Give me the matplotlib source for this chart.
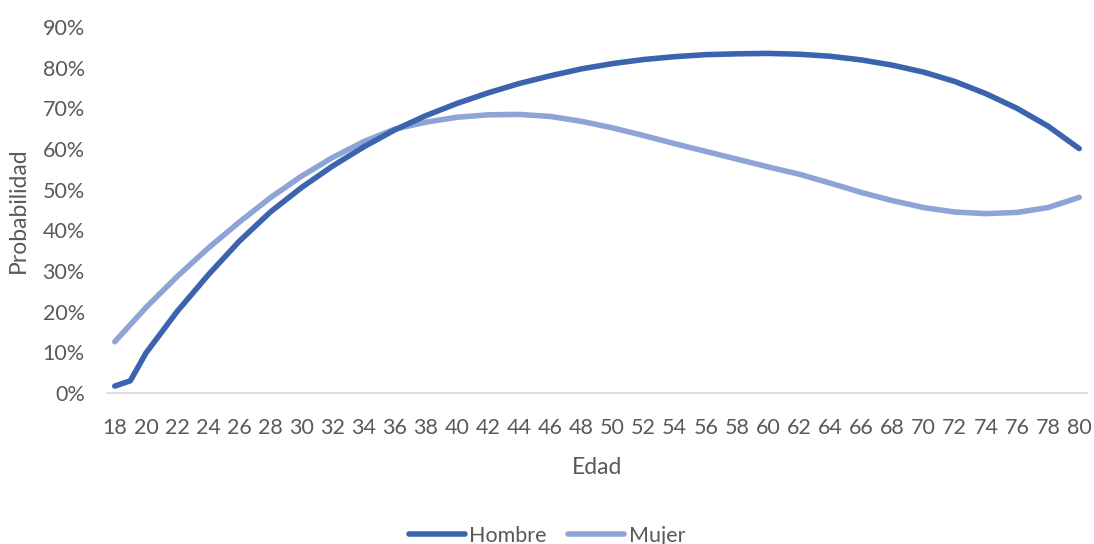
import matplotlib
matplotlib.use("Agg")
import matplotlib.pyplot as plt
from matplotlib.ticker import PercentFormatter

# Estimated probability by age (percent)
edad_hombre = [18, 19, 20, 22, 24, 26, 28, 30, 32, 34, 36, 38, 40, 42, 44, 46, 48,
               50, 52, 54, 56, 58, 60, 62, 64, 66, 68, 70, 72, 74, 76, 78, 80]
hombre = [1.7, 3.0, 9.8, 20.0, 29.0, 37.3, 44.5, 50.5, 55.8, 60.5, 64.7, 68.2, 71.2,
          73.8, 76.1, 78.0, 79.7, 81.0, 82.0, 82.7, 83.2, 83.4, 83.5, 83.3, 82.8,
          81.9, 80.6, 78.9, 76.6, 73.6, 70.0, 65.6, 60.1]

edad_mujer = [18, 20, 22, 24, 26, 28, 30, 32, 34, 36, 38, 40, 42, 44, 46, 48,
              50, 52, 54, 56, 58, 60, 62, 64, 66, 68, 70, 72, 74, 76, 78, 80]
mujer = [12.6, 21.0, 28.6, 35.6, 42.0, 48.0, 53.3, 57.9, 61.8, 64.9, 66.6, 67.8,
         68.4, 68.5, 68.0, 66.8, 65.2, 63.3, 61.3, 59.4, 57.5, 55.6, 53.8, 51.6,
         49.3, 47.3, 45.6, 44.5, 44.1, 44.4, 45.6, 48.1]

x_ticks = list(range(18, 81, 2))
y_ticks = list(range(0, 91, 10))

plt.rcParams['font.family'] = ['Lato', 'DejaVu Sans']
text_color = '#595959'

fig = plt.figure(figsize=(10.94, 5.44), dpi=100)
ax = fig.add_axes([0.0978, 0.2776, 0.8958, 0.6728])

ax.plot(edad_hombre, hombre, color='#3C64AE', lw=4.0, solid_capstyle='round',
        solid_joinstyle='round', label='Hombre', zorder=3)
ax.plot(edad_mujer, mujer, color='#8FA4D6', lw=4.0, solid_capstyle='round',
        solid_joinstyle='round', label='Mujer', zorder=2)

ax.set_xlim(17.5, 80.5)
ax.set_ylim(0, 90)
ax.set_xticks(x_ticks)
ax.set_yticks(y_ticks)
ax.yaxis.set_major_formatter(PercentFormatter(decimals=0))

for side in ('top', 'right', 'left'):
    ax.spines[side].set_visible(False)
ax.spines['bottom'].set_color('#D9D9D9')
ax.spines['bottom'].set_linewidth(1.2)

ax.tick_params(axis='x', length=0, pad=18, labelsize=15.5, labelcolor=text_color)
ax.tick_params(axis='y', length=0, pad=16, labelsize=15.5, labelcolor=text_color)

ax.set_xlabel('Edad', fontsize=16.5, color=text_color, labelpad=14)
ax.set_ylabel('Probabilidad', fontsize=16.5, color=text_color, labelpad=10)

fig.legend(loc='center', bbox_to_anchor=(0.5, 0.015), ncol=2, frameon=False,
           fontsize=15.5, labelcolor=text_color, handlelength=2.6,
           handletextpad=0.2, columnspacing=1.0)

fig.savefig('out.png', dpi=100)
